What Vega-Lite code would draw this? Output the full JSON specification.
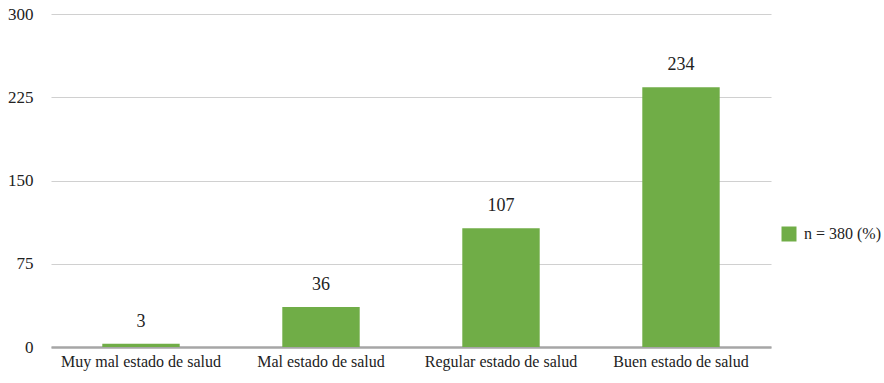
{
  "$schema": "https://vega.github.io/schema/vega-lite/v6.json",
  "width": 720,
  "height": 333,
  "autosize": "none",
  "padding": {"left": 51, "top": 14, "right": 113, "bottom": 36},
  "background": "white",
  "config": {
    "view": {"stroke": null},
    "font": "Liberation Serif, Times New Roman, serif"
  },
  "data": {
    "values": [
      {"estado": "Muy mal estado de salud", "n": 3, "serie": "n = 380 (%)"},
      {"estado": "Mal estado de salud", "n": 36, "serie": "n = 380 (%)"},
      {"estado": "Regular estado de salud", "n": 107, "serie": "n = 380 (%)"},
      {"estado": "Buen estado de salud", "n": 234, "serie": "n = 380 (%)"}
    ]
  },
  "encoding": {
    "x": {
      "field": "estado",
      "type": "nominal",
      "sort": null,
      "scale": {"paddingInner": 0.57, "paddingOuter": 0.285},
      "axis": {
        "title": null,
        "labelAngle": 0,
        "labelFont": "Liberation Serif, Times New Roman, serif",
        "labelFontSize": 16,
        "labelColor": "#222222",
        "labelPadding": 6,
        "ticks": false,
        "domainColor": "#a6a6a6",
        "domainWidth": 2.5
      }
    },
    "y": {
      "field": "n",
      "type": "quantitative",
      "scale": {"domain": [0, 300], "nice": false},
      "axis": {
        "title": null,
        "values": [0, 75, 150, 225, 300],
        "labelFont": "Liberation Serif, Times New Roman, serif",
        "labelFontSize": 17,
        "labelColor": "#222222",
        "labelPadding": 18,
        "ticks": false,
        "domain": false,
        "gridColor": "#d0d0d0",
        "gridWidth": 1.2
      }
    }
  },
  "layer": [
    {
      "mark": {"type": "bar", "color": "#70ad47"},
      "encoding": {
        "color": {
          "field": "serie",
          "type": "nominal",
          "scale": {"range": ["#70ad47"]},
          "legend": {
            "title": null,
            "orient": "none",
            "legendX": 730,
            "legendY": 212,
            "symbolType": "square",
            "symbolSize": 225,
            "symbolStrokeWidth": 0,
            "labelFont": "Liberation Serif, Times New Roman, serif",
            "labelFontSize": 16,
            "labelColor": "#222222",
            "labelOffset": 7
          }
        }
      }
    },
    {
      "mark": {"type": "text", "baseline": "bottom", "dy": -13, "font": "Liberation Serif, Times New Roman, serif", "fontSize": 18, "color": "#222222"},
      "encoding": {"text": {"field": "n", "type": "quantitative"}}
    }
  ]
}
